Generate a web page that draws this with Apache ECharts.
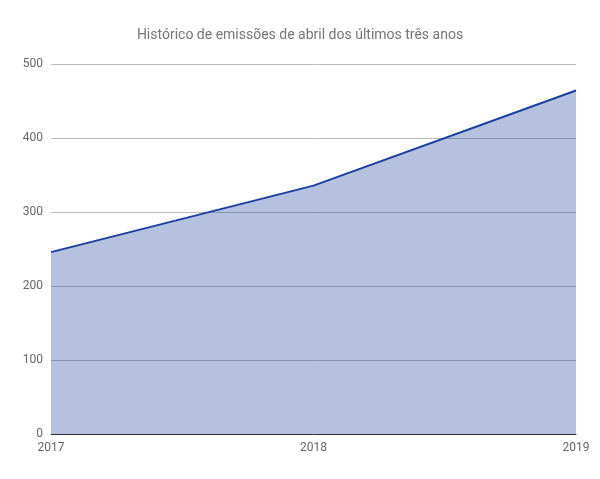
<!DOCTYPE html>
<html><head><meta charset="utf-8">
<script src="https://cdn.jsdelivr.net/npm/echarts@6/dist/echarts.min.js"></script>
<style>html,body{margin:0;padding:0;background:#fff}#c{width:600px;height:479px}</style>
</head><body><div id="c"></div>
<script>
const categories = ['2017','2018','2019'];
const values = [245.769, 335.606, 464.103];
const yTicks = [0,100,200,300,400,500];
const chart = echarts.init(document.getElementById('c'));
chart.setOption({
  animation:false,
  title:{text:'Histórico de emissões de abril dos últimos três anos',left:'center',top:23,
    textStyle:{fontFamily:'Roboto',fontSize:14,fontWeight:'normal',color:'#757575'}},
  grid:{left:51,right:24,top:64,bottom:45},
  xAxis:{type:'category',data:categories,boundaryGap:false,
    axisLine:{lineStyle:{color:'#333'}},axisTick:{show:false},
    axisLabel:{color:'#666',fontFamily:'Roboto',fontSize:12,margin:8,
      formatter:v=>v}},
  yAxis:{type:'value',min:yTicks[0],max:yTicks[yTicks.length-1],interval:100,
    axisLine:{show:false},axisTick:{show:false},
    axisLabel:{color:'#666',fontFamily:'Roboto',fontSize:12,margin:8},
    splitLine:{lineStyle:{color:'#bbb'}}},
  series:[{type:'line',data:values,symbol:'none',
    lineStyle:{color:'#1a3f9c',width:2},
    areaStyle:{color:'#1a3f9c',opacity:0.32},
    label:{show:true,position:'bottom',distance:17,color:'#1a3f9c',fontFamily:'Roboto',fontSize:12,
      textBorderColor:'#fff',textBorderWidth:3,
      formatter:p=>p.value.toFixed(3)}}]
});
</script></body></html>
